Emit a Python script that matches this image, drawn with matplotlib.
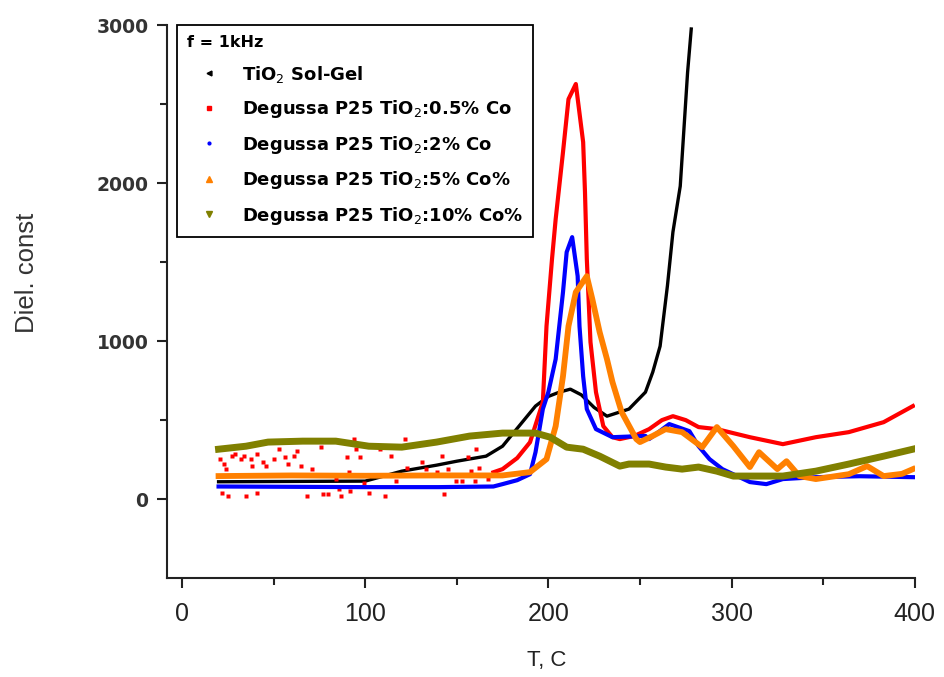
import numpy as np
import matplotlib.pyplot as plt
from matplotlib.lines import Line2D

plt.rcParams['font.family'] = ['Liberation Sans', 'DejaVu Sans']
plt.rcParams['mathtext.fontset'] = 'dejavusans'

# TiO2 Sol-Gel
t_black = [20, 60, 100, 120, 139, 150, 166, 175, 184, 193, 200, 206, 212, 218, 225, 232, 244, 253,
           257, 261, 265, 268, 272, 276, 278]
d_black = [110, 112, 114, 177, 215, 240, 272, 335, 462, 589, 650, 677, 696, 660, 580, 525, 570, 677,
           804, 968, 1350, 1690, 1981, 2700, 2975]

# Degussa P25 TiO2:0.5% Co - noisy low-temperature points
t_red_n = [21, 23, 24, 22, 25, 27.5, 29, 32, 34, 35, 37.5, 38, 41, 41, 44, 46, 50, 53, 56, 58, 61, 63,
           65, 68, 71, 76, 77, 80, 84, 86, 87, 90, 91, 92, 94, 95, 97, 99.5, 102, 108, 111, 114, 117,
           122, 123, 131, 133, 139, 142, 143, 145, 149.5, 153, 156, 158, 160, 160.5, 162, 167]
d_red_n = [253, 221, 190, 42, 21, 274, 285, 253, 274, 21, 253, 211, 285, 42, 232, 211, 253, 316, 264,
           221, 274, 306, 211, 21, 190, 327, 31, 31, 126, 63, 21, 264, 169, 53, 380, 316, 264, 105, 42,
           316, 21, 274, 116, 380, 200, 232, 190, 169, 274, 31, 190, 116, 116, 264, 179, 116, 316, 200, 126]
# main curve
t_red = [170, 175, 183, 190, 197, 199, 202, 204, 208, 211, 215, 219, 220, 221, 223, 226, 230, 235,
         239, 247, 255, 262, 268, 275, 282, 292, 310, 328, 346, 364, 383, 399]
d_red = [170, 190, 260, 360, 614, 1095, 1519, 1772, 2196, 2531, 2627, 2259, 1943, 1519, 994, 677, 462,
         392, 380, 400, 443, 500, 525, 500, 456, 443, 392, 348, 392, 424, 487, 589]

# Degussa P25 TiO2:2% Co
t_blue = [20, 60, 100, 140, 170, 175, 183, 190, 193, 197, 200, 204, 208, 210, 213, 216, 217, 219, 221,
          226, 235, 253, 255, 266, 277, 282, 288, 295, 310, 319, 328, 346, 370, 399]
d_blue = [80, 78, 76, 76, 80, 95, 120, 158, 297, 570, 677, 886, 1310, 1563, 1658, 1411, 1095, 778, 570,
          443, 392, 400, 380, 475, 430, 335, 253, 190, 108, 95, 127, 139, 145, 139]

# Degussa P25 TiO2:5% Co%
t_orange = [20, 60, 100, 140, 175, 190, 199, 204, 208, 211, 215, 221, 224, 228, 232, 235, 240, 248,
            250, 257, 264, 273, 284, 292, 301, 310, 315, 325, 330, 337, 346, 364, 374, 383, 393, 399]
d_orange = [146, 150, 148, 150, 150, 171, 253, 462, 778, 1095, 1310, 1411, 1266, 1057, 886, 741, 551,
            380, 361, 400, 443, 424, 329, 456, 335, 203, 297, 190, 240, 146, 127, 158, 209, 146, 160, 190]

# Degussa P25 TiO2:10% Co%
t_olive = [20, 35, 47, 66, 84, 102, 120, 139, 157, 175, 193, 201, 210, 219, 228, 239, 244, 255, 264,
           273, 282, 292, 301, 310, 328, 346, 364, 383, 399]
d_olive = [316, 335, 361, 367, 367, 335, 329, 361, 399, 418, 418, 392, 329, 316, 272, 209, 222, 222,
           203, 190, 203, 177, 146, 146, 146, 177, 222, 272, 316]

fig = plt.figure(figsize=(9.45, 6.77), dpi=100)
ax = fig.add_axes([0.177, 0.146, 0.791, 0.817])

ax.plot(t_black, d_black, color='black', lw=2.4)
ax.plot(t_red_n, d_red_n, ls='none', marker='s', ms=2.8, color='red', mec='none')
ax.plot(t_red, d_red, color='red', lw=3)
ax.plot(t_blue, d_blue, color='blue', lw=3)
ax.plot(t_orange, d_orange, color='#ff8000', lw=4.2)
ax.plot(t_olive, d_olive, color='#808000', lw=5)

ax.set_xlim(-8, 400)
ax.set_ylim(-500, 3000)
ax.set_xticks([0, 100, 200, 300, 400])
ax.set_xticks([50, 150, 250, 350], minor=True)
ax.set_yticks([0, 1000, 2000, 3000])
ax.set_yticks([500, 1500, 2500], minor=True)
for s in ['top', 'right']:
    ax.spines[s].set_visible(False)
for s in ['left', 'bottom']:
    ax.spines[s].set_linewidth(1.5)
    ax.spines[s].set_color('#222222')
ax.tick_params(axis='both', which='major', direction='out', length=7.5, width=1.5, color='#222222')
ax.tick_params(axis='both', which='minor', direction='out', length=5, width=1.5, color='#222222')
ax.tick_params(axis='x', pad=10)
ax.tick_params(axis='y', pad=6)
for lab in ax.get_yticklabels():
    lab.set_fontfamily('DejaVu Sans')
    lab.set_fontsize(13.5)
    lab.set_fontweight('bold')
    lab.set_color('#333333')
for lab in ax.get_xticklabels():
    lab.set_fontsize(18)
    lab.set_color('#222222')

ax.set_xlabel('T, C', fontsize=16, color='#222222')
ax.xaxis.set_label_coords(0.508, -0.13)
ax.set_ylabel('Diel. const', fontsize=18.5, color='#333333')
ax.yaxis.set_label_coords(-0.171, 0.552)

labels = ['TiO$_2$ Sol-Gel', 'Degussa P25 TiO$_2$:0.5% Co', 'Degussa P25 TiO$_2$:2% Co',
          'Degussa P25 TiO$_2$:5% Co%', 'Degussa P25 TiO$_2$:10% Co%']
handles = [Line2D([], [], ls='none', marker='<', ms=3.5, color='black'),
           Line2D([], [], ls='none', marker='s', ms=3.5, color='red'),
           Line2D([], [], ls='none', marker='.', ms=4, color='blue'),
           Line2D([], [], ls='none', marker='^', ms=4.5, color='#ff8000'),
           Line2D([], [], ls='none', marker='v', ms=4.5, color='#808000')]
leg = ax.legend(handles, labels, loc='upper left', bbox_to_anchor=(0.013, 1.0), borderaxespad=0,
                title='f = 1kHz', fancybox=False, edgecolor='black', framealpha=1,
                prop={'family': 'DejaVu Sans', 'size': 13, 'weight': 'bold'},
                title_fontproperties={'family': 'DejaVu Sans', 'size': 11.5, 'weight': 'bold'},
                handletextpad=0.55, labelspacing=0.75, borderpad=0.55, handlelength=2.5)
leg._legend_box.align = 'left'
leg.get_frame().set_linewidth(1.3)

fig.savefig('out.png', dpi=100)
